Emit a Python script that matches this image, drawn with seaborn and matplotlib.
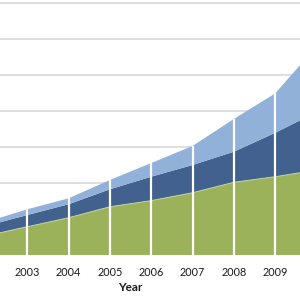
import matplotlib
matplotlib.use("Agg")
import matplotlib.pyplot as plt
import seaborn as sns
import numpy as np

years = [2002, 2003, 2004, 2005, 2006, 2007, 2008, 2009, 2010]
tick_years = [2003, 2004, 2005, 2006, 2007, 2008, 2009]
green = [10.6, 15.7, 20.7, 26.8, 30.2, 34.6, 40.4, 43.5, 47.2]
dark_blue = [5.5, 6.5, 7.5, 9.7, 13.3, 15.4, 17.0, 24.4, 32.2]
light_blue = [2.2, 3.2, 3.3, 5.2, 7.6, 10.6, 18.2, 21.9, 36.6]
grid_values = [20, 40, 60, 80, 100, 120, 140]

sns.set_theme(style="white")
plt.rcParams['font.family'] = ['Lato', 'DejaVu Sans']

fig = plt.figure(figsize=(3, 3), dpi=100)
ax = fig.add_axes([0, 0.15, 1, 0.85])

for g in grid_values:
    ax.axhline(g, color="#D9D9D9", lw=1.2, zorder=0)

ax.stackplot(years, green, dark_blue, light_blue,
             colors=["#9BB25A", "#42618F", "#92B1D9"], lw=0, zorder=2)

green_top = np.array(green)
ax.plot(years, green_top, color="#C5D3A0", lw=0.7, zorder=2.5)

totals = np.array(green) + np.array(dark_blue) + np.array(light_blue)
ax.vlines(years, 0, totals, colors="white", lw=1.6, zorder=3)

ax.set_xlim(2002.34, 2009.60)
ax.set_ylim(0, 141.7)
ax.set_xticks(tick_years)
ax.set_xticklabels([str(y) for y in tick_years], fontsize=7.8, color="#1a1a1a")
ax.tick_params(axis="x", length=0, pad=9)
ax.set_yticks([])
for s in ax.spines.values():
    s.set_visible(False)
ax.set_xlabel("Year", fontsize=8.5, fontweight="bold", color="#1a1a1a")
ax.xaxis.set_label_coords(0.435, -0.105)

fig.savefig("out.png", dpi=100)
